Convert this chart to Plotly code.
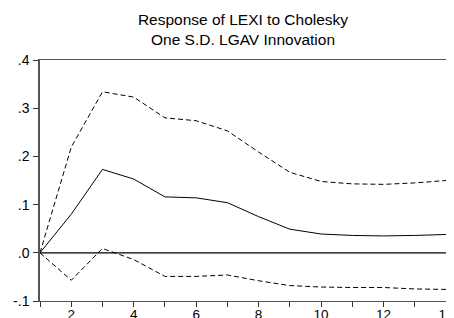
import plotly.graph_objects as go

periods = list(range(1, 15))
response = [0.0, 0.080, 0.173, 0.153, 0.116, 0.114, 0.104, 0.075, 0.049, 0.039, 0.036, 0.035, 0.036, 0.038]
upper = [0.0, 0.219, 0.334, 0.323, 0.280, 0.274, 0.253, 0.209, 0.167, 0.148, 0.143, 0.142, 0.145, 0.150]
lower = [0.0, -0.057, 0.009, -0.014, -0.049, -0.049, -0.046, -0.058, -0.068, -0.071, -0.072, -0.072, -0.075, -0.076]

x_tickvals = list(range(1, 15))
x_ticktext = ["" if v % 2 else str(v) for v in x_tickvals]
y_tickvals = [-0.1, 0.0, 0.1, 0.2, 0.3, 0.4]
y_ticktext = ["-.1", ".0", ".1", ".2", ".3", ".4"]

fig = go.Figure()
fig.add_trace(go.Scatter(x=periods, y=upper, mode="lines",
                         line=dict(color="black", width=1, dash="5px,3px")))
fig.add_trace(go.Scatter(x=periods, y=lower, mode="lines",
                         line=dict(color="black", width=1, dash="5px,3px")))
fig.add_trace(go.Scatter(x=periods, y=response, mode="lines",
                         line=dict(color="black", width=1)))

fig.add_shape(type="line", xref="paper", x0=0, x1=1, yref="y", y0=0, y1=0,
              line=dict(color="black", width=1.2), layer="above")

# The page has an 8px body margin; the figure is placed so the plot area lands where the reference has it.
fig.update_layout(
    width=462, height=310,
    margin=dict(l=32, r=24, t=52, b=17),
    paper_bgcolor="white", plot_bgcolor="white",
    showlegend=False,
    font=dict(family="Liberation Sans, Arial, sans-serif", color="black", size=13),
    title=dict(text="Response of LEXI to Cholesky<br>One S.D. LGAV Innovation",
               x=0.5, xref="paper", xanchor="center",
               y=1 - 17 / 310, yref="container", yanchor="top",
               font=dict(size=15.5, color="black")),
)
fig.update_xaxes(range=[1, 14], tickvals=x_tickvals, ticktext=x_ticktext,
                 showgrid=False, zeroline=False,
                 showline=True, linecolor="#555", linewidth=1, mirror=True,
                 ticks="outside", ticklen=5, tickcolor="#333",
                 tickfont=dict(size=13.5), ticklabelstandoff=-4, automargin=False)
fig.update_yaxes(range=[-0.1, 0.4], tickvals=y_tickvals, ticktext=y_ticktext,
                 showgrid=False, zeroline=False,
                 showline=True, linecolor="#555", linewidth=1.5, mirror=True,
                 ticks="outside", ticklen=5, tickcolor="#333",
                 tickfont=dict(size=14), ticklabelstandoff=1, automargin=False)

fig.write_html("out.html")
